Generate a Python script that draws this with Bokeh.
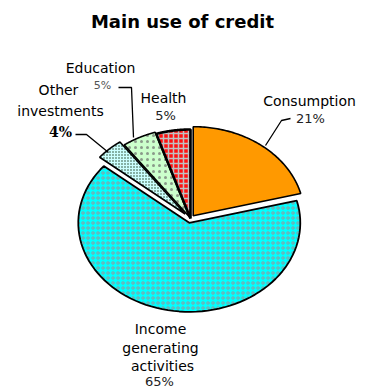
import numpy as np
from bokeh.plotting import figure
from bokeh.models import Range1d
from bokeh.core.properties import value
from bokeh.embed import file_html
from bokeh.resources import INLINE

# Shares of credit use (percent), clockwise from 12 o'clock
categories = ["Consumption", "Income generating activities", "Other investments", "Education", "Health"]
shares = [21, 65, 4, 5, 5]
pct_labels = ["21%", "65%", "4%", "5%", "5%"]

# Slice styling
fills = ["#FF9900", "#00FFFF", "#CCFFFF", "#CCFFCC", "#FF1010"]
hatches = [None, "ring", "dot", "dot", "cross"]
hatch_colors = [None, "#8f9aa0", "#1c3a1c", "#8a9a8a", "#c0c0c0"]
hatch_scales = [1, 5, 3, 6, 5]
hatch_weights = [1, 1, 1, 1, 1.5]
outline_widths = [1.6, 1.8, 1.6, 1.6, 2.6]
explode = [0.04, 0.05, 0.07, 0.02, 0.0]

W, H = 366, 389
cx, cy, rx, ry = 190, 218, 111, 89

p = figure(width=W, height=H, output_backend="svg", toolbar_location=None,
           x_range=Range1d(0, W), y_range=Range1d(H, 0), min_border=0)
p.axis.visible = False
p.grid.visible = False
p.outline_line_color = None
p.background_fill_color = "white"
p.border_fill_color = "white"

total = float(sum(shares))
edges = np.concatenate([[0.0], np.cumsum(shares)]) / total * 2 * np.pi

for i, share in enumerate(shares):
    a0, a1 = edges[i], edges[i + 1]
    mid = 0.5 * (a0 + a1)
    ox = cx + explode[i] * rx * np.sin(mid)
    oy = cy - explode[i] * ry * np.cos(mid)
    t = np.linspace(a0, a1, 80)
    xs = np.concatenate([[ox], ox + rx * np.sin(t), [ox]])
    ys = np.concatenate([[oy], oy - ry * np.cos(t), [oy]])
    kw = dict(fill_color=fills[i], line_color="black", line_width=outline_widths[i])
    if hatches[i]:
        kw.update(hatch_pattern=hatches[i], hatch_color=hatch_colors[i],
                  hatch_scale=hatch_scales[i], hatch_weight=hatch_weights[i])
    p.patch(xs, ys, **kw)

# Leader lines
p.line([118, 131, 133], [87, 87, 137], line_color="black", line_width=1.3)
p.line([75, 86, 108], [134, 134, 152], line_color="black", line_width=1.3)
p.line([290, 281, 265], [118, 120, 145], line_color="black", line_width=1.3)

font = value("DejaVu Sans")

# Title
p.text([182], [21], text=["Main use of credit"], text_font=font, text_font_size="18px",
       text_font_style="bold", text_align="center", text_baseline="middle", text_color="black")

# Category labels
label_x = [309, 160, 58, 100, 163]
label_y = [100, 328, 89, 67, 97]
label_text = ["Consumption", "Income", "Other", "Education", "Health"]
p.text(label_x, label_y, text=label_text, text_font=font, text_font_size="14px",
       text_align="center", text_baseline="middle", text_color="black")
p.text([160, 162, 60], [347, 365, 110], text=["generating", "activities", "investments"],
       text_font=font, text_font_size="14px", text_align="center", text_baseline="middle",
       text_color="black")

# Percentage labels
p.text([310, 159, 165], [118, 381, 115], text=[pct_labels[0], pct_labels[1], pct_labels[4]],
       text_font=font, text_font_size="13px", text_align="center", text_baseline="middle",
       text_color="#222222")
p.text([102], [85], text=[pct_labels[3]], text_font=font, text_font_size="11px",
       text_align="center", text_baseline="middle", text_color="#555555")
p.text([60], [131], text=[pct_labels[2]], text_font=value("DejaVu Serif"), text_font_size="14px",
       text_font_style="bold", text_align="center", text_baseline="middle", text_color="black")

open("out.html", "w").write(file_html(p, INLINE))
